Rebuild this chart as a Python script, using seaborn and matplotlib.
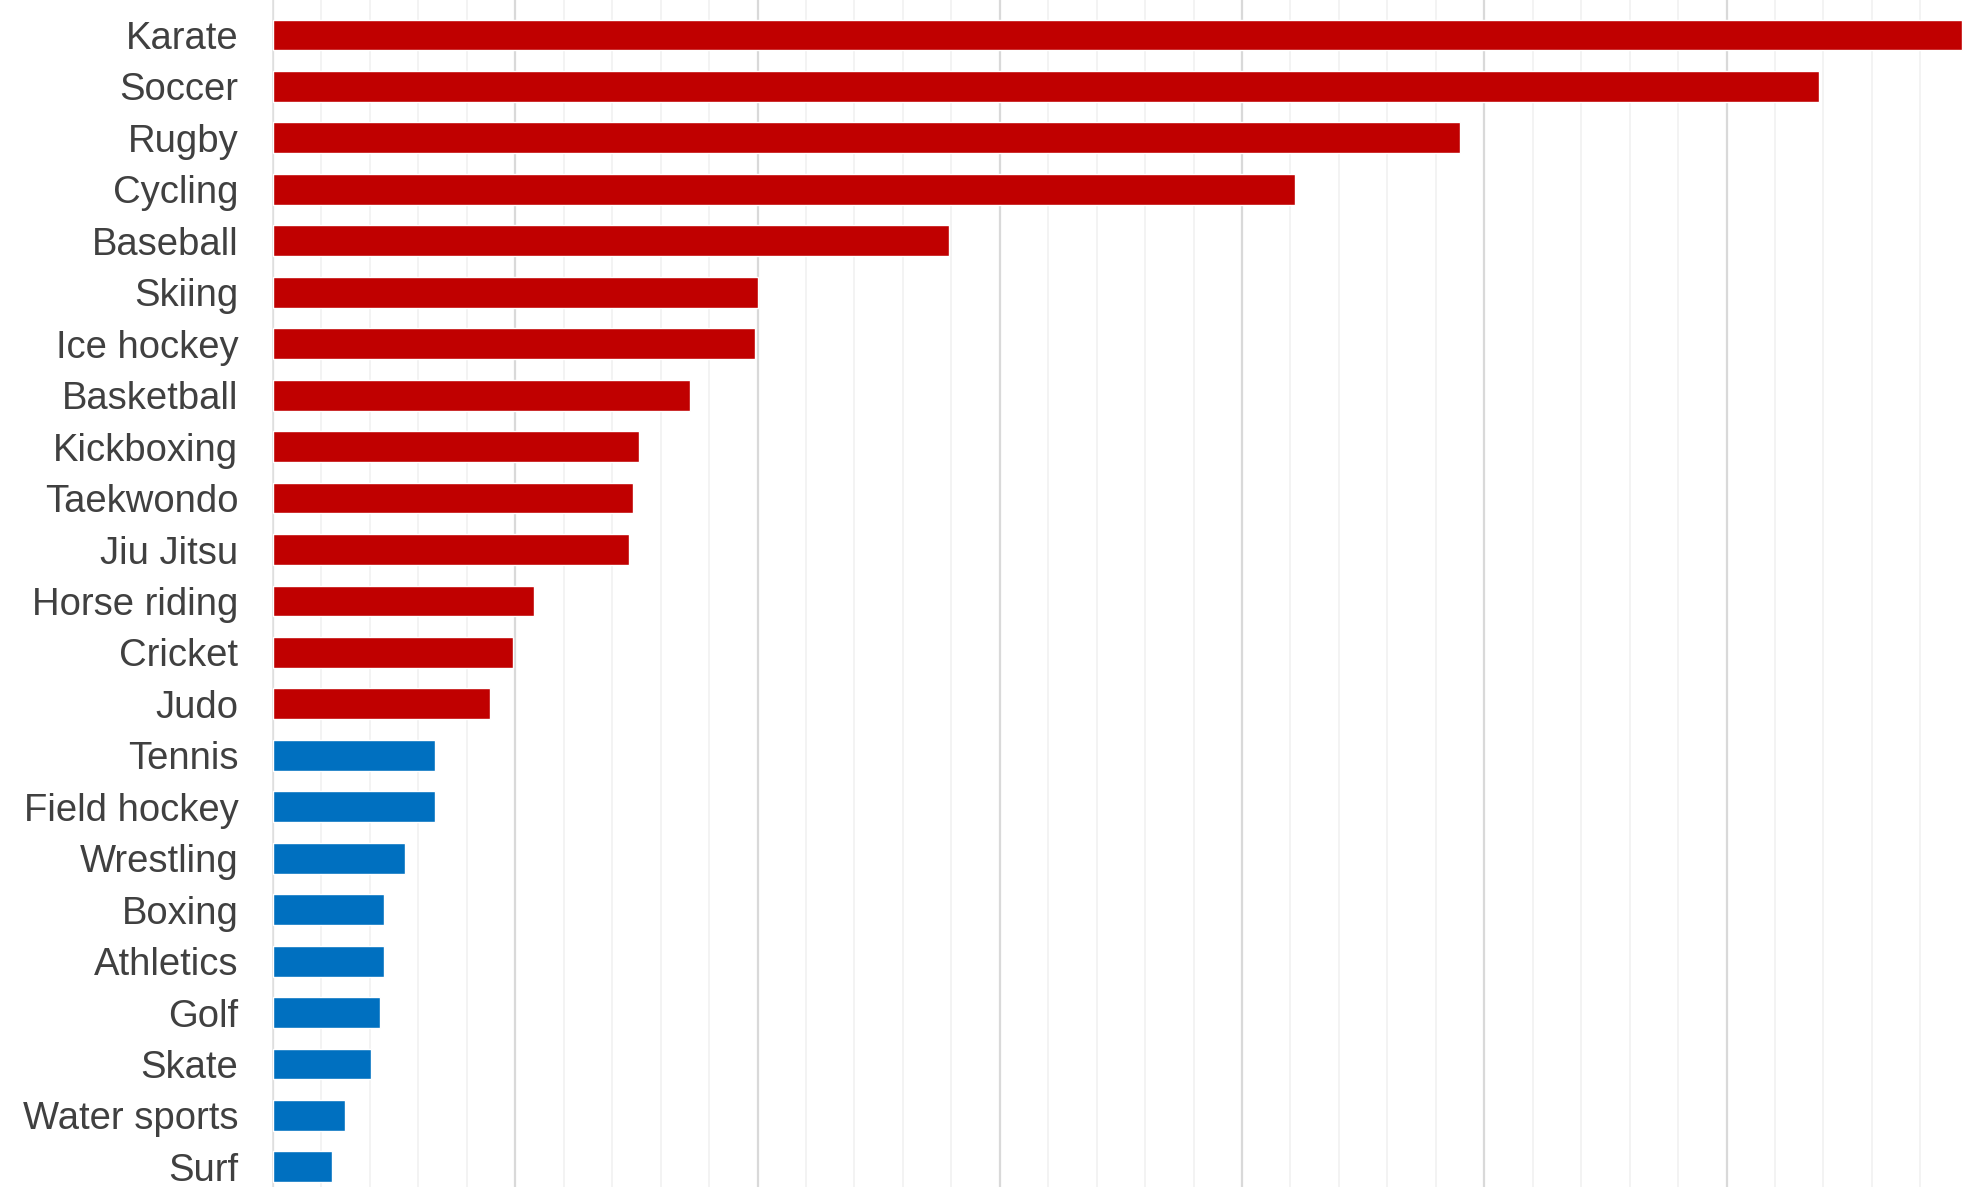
import matplotlib
matplotlib.use("Agg")
import matplotlib.pyplot as plt
import seaborn as sns
import pandas as pd
from matplotlib.ticker import MultipleLocator

sports = ["Karate", "Soccer", "Rugby", "Cycling", "Baseball", "Skiing", "Ice hockey",
          "Basketball", "Kickboxing", "Taekwondo", "Jiu Jitsu", "Horse riding", "Cricket",
          "Judo", "Tennis", "Field hockey", "Wrestling", "Boxing", "Athletics", "Golf",
          "Skate", "Water sports", "Surf"]
values = [34.85, 31.9, 24.5, 21.1, 13.95, 10.0, 9.95, 8.6, 7.55, 7.43, 7.34, 5.38, 4.96,
          4.47, 3.34, 3.34, 2.72, 2.29, 2.29, 2.21, 2.02, 1.49, 1.22]
groups = ["high"] * 14 + ["low"] * 9
palette = {"high": "#C00000", "low": "#0070C0"}

df = pd.DataFrame({"sport": sports, "value": values, "group": groups})

sns.set_theme(style="white")
plt.rcParams['font.family'] = ['Liberation Sans', 'DejaVu Sans']

fig = plt.figure(figsize=(19.63, 11.87), dpi=100)
ax = fig.add_axes([273 / 1963, 0.0, 1 - 273 / 1963, 1.0])

sns.barplot(data=df, x="value", y="sport", hue="group", palette=palette,
            dodge=False, width=0.6, legend=False, ax=ax, zorder=3, saturation=1)

ax.set_xlim(0, 34.88)
ax.set_ylim(22.39, -0.68)
ax.xaxis.set_major_locator(MultipleLocator(5))
ax.xaxis.set_minor_locator(MultipleLocator(1))
ax.grid(axis="x", which="major", color="#d9d9d9", linewidth=1.6, zorder=0)
ax.grid(axis="x", which="minor", color="#f3f3f3", linewidth=1.4, zorder=0)
ax.set_axisbelow(True)

ax.set_xlabel("")
ax.set_ylabel("")
ax.set_xticklabels([])
ax.tick_params(axis="x", which="both", length=0)
ax.tick_params(axis="y", length=0, pad=25, labelsize=27.5, labelcolor="#404040")

for s in ["top", "right", "bottom"]:
    ax.spines[s].set_visible(False)
ax.spines["left"].set_color("#e0e0e0")
ax.spines["left"].set_linewidth(1.2)

fig.savefig("out.png", dpi=100)
